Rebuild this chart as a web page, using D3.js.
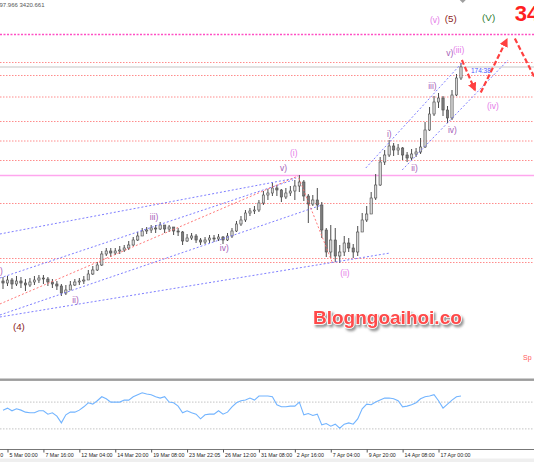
<!DOCTYPE html>
<html>
<head>
<meta charset="utf-8">
<script src="https://cdn.jsdelivr.net/npm/d3@7/dist/d3.min.js"></script>
<style>
  html, body { margin: 0; padding: 0; background: #fff; }
  svg { display: block; font-family: "Liberation Sans", Arial, sans-serif; }
</style>
</head>
<body>
<svg id="chart" width="534" height="462"></svg>
<script>
// XAUUSD candles (8h steps)
const open = [2898,2894,2900,2892,2898,2894,2890,2896,2900,2904,
  2902,2896,2892,2888,2874,2880,2890,2896,2898,2900,
  2912,2920,2930,2952,2958,2954,2958,2960,2964,2970,
  2980,2988,2998,3000,3004,3002,3010,3002,3006,2998,
  2996,2978,2984,2988,2980,2976,2980,2984,2982,2986,
  2980,2988,2998,3012,3020,3034,3038,3040,3054,3070,
  3074,3084,3080,3066,3074,3078,3088,3096,3068,3052,
  3060,3050,3000,2956,2980,2948,2956,2974,2964,2956,
  2996,3020,3032,3064,3090,3136,3150,3168,3160,3164,
  3150,3144,3152,3156,3166,3200,3232,3256,3264,3240,
  3224,3270,3304];
const high = [2906,2908,2904,2908,2906,2902,2904,2908,2910,2910,
  2906,2902,2898,2892,2890,2898,2902,2904,2908,2920,
  2928,2936,2958,2964,2964,2964,2968,2970,2978,2986,
  2996,3004,3006,3010,3010,3016,3010,3010,3006,3004,
  2998,2992,2994,2992,2984,2986,2990,2990,2992,2988,
  2994,3004,3018,3028,3040,3044,3048,3060,3078,3082,
  3094,3090,3082,3084,3088,3100,3110,3100,3072,3070,
  3084,3056,3004,3010,3004,2970,2988,2984,2972,3008,
  3034,3048,3076,3112,3146,3160,3180,3174,3172,3166,
  3156,3162,3164,3184,3216,3246,3268,3274,3268,3248,
  3280,3312,3334];
const low = [2882,2888,2882,2888,2884,2878,2886,2890,2894,2892,
  2888,2884,2880,2868,2870,2880,2888,2890,2892,2900,
  2910,2918,2928,2948,2946,2950,2952,2956,2960,2968,
  2978,2988,2992,2994,2994,3000,2994,2996,2990,2988,
  2970,2976,2980,2974,2970,2972,2974,2976,2978,2972,
  2978,2984,2996,3008,3016,3028,3032,3036,3050,3060,
  3068,3068,3056,3062,3068,3060,3076,3058,3014,3048,
  3040,2984,2946,2944,2936,2934,2948,2956,2944,2948,
  2996,3016,3032,3060,3088,3130,3146,3148,3150,3140,
  3136,3140,3146,3152,3164,3198,3228,3244,3228,3214,
  3220,3268,3300];
const close = [2894,2900,2892,2898,2894,2890,2896,2900,2904,2902,
  2896,2892,2888,2874,2880,2890,2896,2898,2900,2912,
  2920,2930,2952,2958,2954,2958,2960,2964,2970,2980,
  2988,2998,3000,3004,3002,3010,3002,3006,2998,2996,
  2978,2984,2988,2980,2976,2980,2984,2982,2986,2980,
  2988,2998,3012,3020,3034,3038,3040,3054,3070,3074,
  3084,3080,3066,3074,3078,3088,3096,3068,3052,3060,
  3050,3000,2956,2980,2948,2956,2974,2964,2956,2996,
  3020,3032,3064,3090,3136,3150,3168,3160,3164,3150,
  3144,3152,3156,3166,3200,3232,3256,3264,3240,3224,
  3270,3304,3326];

// RSI in the lower window
const rsi = [58,61,57,60,58,55,54,54,57,57,
  52,54,49,39,51,55,55,58,63,69,
  67,72,78,75,70,70,70,73,73,78,
  81,84,82,81,78,76,78,70,69,64,
  54,57,54,52,45,51,52,52,57,52,
  55,63,69,72,73,76,73,79,79,79,
  78,66,63,63,64,64,70,51,53,50,
  52,36,38,34,37,31,37,39,37,45,
  60,67,66,70,73,76,76,75,72,63,
  64,66,69,75,78,79,81,72,61,67,
  73,78,79];
const rsiLevels = [70, 30];

// horizontal levels
const targetLevel = [3391];
const pivotLevel = [3109];
const fibLevels = [3335, 3309, 3266, 3217, 3178, 3139, 3053, 2943, 2935];

// trend / channel lines as [bar, price] pairs
const channelLines = [
  [[-0.7, 2992], [65.3, 3104]],
  [[-0.7, 2904], [64.6, 3100]],
  [[-0.7, 2830], [71.0, 3050]],
  [[-0.7, 2826], [86.2, 2954]],
  [[80.8, 3124], [102.4, 3336]],
  [[88.9, 3120], [112.5, 3340]]
];
const redLines = [
  [[-0.7, 2852], [65.7, 3108]],
  [[65.9, 3104], [73.3, 2936]]
];
const forecast = [
  [[102.2, 3340], [105.1, 3280]],
  [[106.4, 3275], [112.2, 3381]],
  [[114.0, 3383], [120.7, 3264]]
];

// wave counts: text, bar, price, degree
const waveLabels = [
  ['(v)', 95.1, 3420, 'inter'], ['(5)', 98.4, 3422, 'major'], ['(V)', 106.7, 3424, 'primary'],
  ['v)', 98.7, 3354, 'minor'], ['(iii)', 100.2, 3360, 'inter'],
  ['iii)', 94.7, 3288, 'minor'], ['(iv)', 107.8, 3248, 'inter'], ['iv)', 99.1, 3200, 'minor'],
  ['i)', 85.5, 3192, 'minor'], ['ii)', 90.9, 3124, 'minor'],
  ['(ii)', 75.1, 2914, 'inter'], ['(i)', 63.9, 3154, 'inter'], ['v)', 61.7, 3124, 'minor'],
  ['iii)', 32.7, 3026, 'minor'], ['iv)', 48.3, 2964, 'minor'], ['ii)', 15.4, 2860, 'minor'],
  ['(4)', 2.2, 2806, 'major'], [')', -0.65, 2918, 'minor']
];
const target = ['34', 114.0, 3433];

const tickBars = [1, 9, 17, 25, 33, 41, 49, 57, 65, 73, 81, 89, 97];
const tickLabels = ['5 Mar 00:00', '7 Mar 16:00', '12 Mar 04:00', '14 Mar 20:00', '19 Mar 08:00',
  '23 Mar 22:05', '26 Mar 12:00', '31 Mar 08:00', '2 Apr 16:00', '7 Apr 04:00',
  '9 Apr 20:00', '14 Apr 08:00', '17 Apr 00:00'];

const W = 534, H = 462;
const degreeStyle = {
  major: {fill: '#8b1c1c', size: 9.8},
  primary: {fill: '#2e7d32', size: 9.8},
  inter: {fill: '#e57ae8', size: 8.5},
  minor: {fill: '#a660b8', size: 8.5}
};

const svg = d3.select('#chart');
const x = d3.scaleLinear().domain([0, 100]).range([3, 452]);
const y = d3.scaleLinear().domain([2700, 3460]).range([380, 0]);
const yRsi = d3.scaleLinear().domain([0, 100]).range([449, 382]);

const defs = svg.append('defs');
defs.append('clipPath').attr('id', 'main')
  .append('rect').attr('x', 0).attr('y', 0).attr('width', W).attr('height', 378);
defs.append('filter').attr('id', 'shadow')
  .attr('x', '-5%').attr('y', '-20%').attr('width', '110%').attr('height', '150%')
  .append('feDropShadow')
  .attr('dx', 1.8).attr('dy', 2.4).attr('stdDeviation', 0.8)
  .attr('flood-color', '#777').attr('flood-opacity', 0.8);

svg.append('marker')
  .attr('id', 'head').attr('viewBox', '0 0 10 10').attr('refX', 8).attr('refY', 5)
  .attr('markerWidth', 4).attr('markerHeight', 4).attr('orient', 'auto')
  .append('path').attr('d', 'M0,0 L10,5 L0,10 z').attr('fill', '#ff4040');

const main = svg.append('g').attr('clip-path', 'url(#main)');

renderLevels();
renderCandles();
renderLines();
renderLabels();
renderWatermark();
renderRsi();
renderAxis();

function hline(g, price, stroke, width, dash) {
  g.append('line')
    .attr('x1', 0).attr('x2', W)
    .attr('y1', y(price)).attr('y2', y(price))
    .attr('stroke', stroke).attr('stroke-width', width)
    .attr('stroke-dasharray', dash);
}

function renderLevels() {
  fibLevels.forEach(p => hline(main, p, '#ff8c8c', 1, '1.5,1.5'));
  targetLevel.forEach(p => hline(main, p, '#ff4fc4', 1.6, '2,1.5'));
  pivotLevel.forEach(p => hline(main, p, '#ffa6ee', 1.3, null));
  // bid line
  hline(main, close[close.length - 1], '#c6c6c6', 1.2, null);

  // chart shift marker
  const sx = x(102.4);
  main.append('path')
    .attr('d', `M${sx - 3},0 L${sx + 3},0 L${sx},3 z`)
    .attr('fill', '#a0a0a0');
}

function renderCandles() {
  const bw = 2.3;
  const g = main.append('g').attr('class', 'candles');
  close.forEach((c, i) => {
    const o = open[i];
    const hi = Math.max(high[i], o, c), lo = Math.min(low[i], o, c);
    g.append('line')
      .attr('x1', x(i)).attr('x2', x(i))
      .attr('y1', y(hi)).attr('y2', y(lo))
      .attr('stroke', '#4c4c4c').attr('stroke-width', 1);
    g.append('rect')
      .attr('x', x(i) - bw / 2)
      .attr('y', y(Math.max(o, c)))
      .attr('width', bw)
      .attr('height', Math.max(0.8, Math.abs(y(o) - y(c))))
      .attr('fill', c >= o ? '#d6d6d6' : '#7c7c7c')
      .attr('stroke', '#4c4c4c').attr('stroke-width', 0.6);
  });

  // candle countdown
  main.append('text')
    .attr('x', x(close.length - 1) + 10)
    .attr('y', y(close[close.length - 1]) + 6)
    .attr('font-size', 6.5).attr('fill', '#4455ff')
    .text('174:38');
}

function renderLines() {
  const line = d3.line().x(d => x(d[0])).y(d => y(d[1]));
  channelLines.forEach(l => main.append('path')
    .attr('d', line(l)).attr('fill', 'none')
    .attr('stroke', '#6f6fff').attr('stroke-width', 0.9)
    .attr('stroke-dasharray', '2,2'));
  redLines.forEach(l => main.append('path')
    .attr('d', line(l)).attr('fill', 'none')
    .attr('stroke', '#ff6a6a').attr('stroke-width', 0.9)
    .attr('stroke-dasharray', '2,2'));
  forecast.forEach(l => main.append('path')
    .attr('d', line(l)).attr('fill', 'none')
    .attr('stroke', '#ff4040').attr('stroke-width', 2.2)
    .attr('stroke-dasharray', '5,2.5')
    .attr('marker-end', 'url(#head)'));
}

function renderLabels() {
  waveLabels.forEach(([t, i, p, deg]) => {
    const s = degreeStyle[deg];
    main.append('text')
      .attr('x', x(i)).attr('y', y(p)).attr('dy', '0.35em')
      .attr('font-size', s.size).attr('fill', s.fill)
      .text(t);
  });
  main.append('text')
    .attr('x', x(target[1])).attr('y', y(target[2])).attr('dy', '0.35em')
    .attr('font-size', 22).attr('font-weight', 'bold').attr('fill', '#ff2020')
    .text(target[0]);

  svg.append('text')
    .attr('x', -0.5).attr('y', 7)
    .attr('font-size', 6).attr('fill', '#555')
    .text('97.966 3420.661');

  main.append('text')
    .attr('x', 523).attr('y', 360)
    .attr('font-size', 7).attr('fill', '#ff5a5a')
    .text('Sp');
}

function renderWatermark() {
  svg.append('text')
    .attr('x', 313).attr('y', 323.5)
    .attr('font-size', 19).attr('font-weight', 'bold')
    .attr('fill', '#ff4848')
    .attr('stroke', '#fff').attr('stroke-width', 1.6)
    .attr('paint-order', 'stroke')
    .attr('filter', 'url(#shadow)')
    .text('Blogngoaihoi.co');
}

function renderRsi() {
  svg.append('rect')
    .attr('x', 0).attr('y', 378.5).attr('width', W).attr('height', 2.4)
    .attr('fill', '#9c9c9c');

  rsiLevels.forEach(v => svg.append('line')
    .attr('x1', 0).attr('x2', W)
    .attr('y1', yRsi(v)).attr('y2', yRsi(v))
    .attr('stroke', '#c4c4c4').attr('stroke-width', 1)
    .attr('stroke-dasharray', '1.5,1.5'));

  const line = d3.line().x((d, i) => x(i)).y(d => yRsi(d));
  svg.append('path')
    .attr('d', line(rsi)).attr('fill', 'none')
    .attr('stroke', '#72b4ff').attr('stroke-width', 1.1);
}

function renderAxis() {
  svg.append('line')
    .attr('x1', 0).attr('x2', W).attr('y1', 449.5).attr('y2', 449.5)
    .attr('stroke', '#777').attr('stroke-width', 1);

  const axis = d3.axisBottom(x)
    .tickValues(tickBars)
    .tickFormat((d, i) => tickLabels[i])
    .tickSize(3).tickSizeOuter(0);

  const g = svg.append('g')
    .attr('transform', 'translate(0,449.5)')
    .call(axis);
  g.select('.domain').remove();
  g.selectAll('.tick line').attr('stroke', '#555');
  g.selectAll('.tick text')
    .attr('text-anchor', 'start').attr('x', 1.5).attr('y', 3.3)
    .attr('font-size', 5.3).attr('fill', '#222')
    .attr('font-family', '"Liberation Sans", Arial, sans-serif');

  // tail of the label that scrolled off the left edge
  svg.append('text')
    .attr('x', 0.3).attr('y', 457)
    .attr('font-size', 5.3).attr('fill', '#222')
    .text('0');

  svg.append('rect')
    .attr('x', 0).attr('y', 458.5).attr('width', W).attr('height', 4)
    .attr('fill', '#efefef');
}
</script>
</body>
</html>
